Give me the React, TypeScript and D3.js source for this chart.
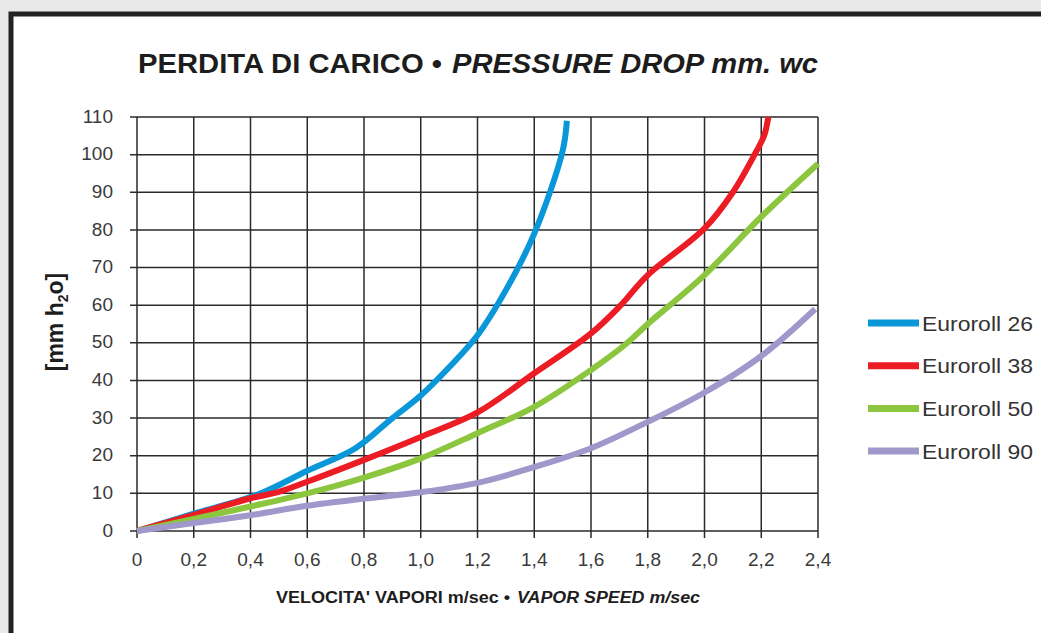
import React from "react";
import * as d3 from "d3";

// speeds (m/sec) and pressure drops (mm wc)
const speed26 = [0, 0.2, 0.43, 0.6, 0.77, 0.9, 1.0, 1.1, 1.2, 1.3, 1.4, 1.5, 1.515];
const drop26 = [0, 4.6, 9.8, 16, 22, 30, 36, 43.5, 52, 64, 79, 101, 109];

const speed38 = [0, 0.2, 0.4, 0.5, 0.6, 0.8, 1.0, 1.2, 1.4, 1.6, 1.7, 1.8, 2.0, 2.1, 2.18, 2.21, 2.225];
const drop38 = [0, 4.3, 8.7, 10.4, 13.1, 18.9, 25, 31.5, 41.9, 52.5, 59.6, 68, 80.4, 90, 100.5, 105, 110];

const speed50 = [0, 0.2, 0.4, 0.6, 0.8, 1.0, 1.2, 1.4, 1.6, 1.72, 1.8, 2.0, 2.2, 2.4];
const drop50 = [0, 3.2, 6.5, 10, 14.2, 19.3, 26, 33, 42.8, 49.5, 55, 68, 83.5, 97.6];

const speed90 = [0, 0.2, 0.4, 0.6, 0.8, 1.0, 1.2, 1.4, 1.6, 1.8, 2.0, 2.2, 2.39];
const drop90 = [0, 2.1, 4.2, 6.7, 8.6, 10.3, 12.8, 17, 22, 29, 36.8, 46.5, 59];

const seriesNames = ["Euroroll 26", "Euroroll 38", "Euroroll 50", "Euroroll 90"];
const seriesColors = ["#0a97d9", "#ec1c24", "#8cc63f", "#a097cb"];

const xTicks = [0, 0.2, 0.4, 0.6, 0.8, 1.0, 1.2, 1.4, 1.6, 1.8, 2.0, 2.2, 2.4];
const yTicks = [0, 10, 20, 30, 40, 50, 60, 70, 80, 90, 100, 110];

const W = 1041;
const H = 633;

export default function App() {
  const x = d3.scaleLinear().domain([0, 2.4]).range([137, 818]);
  const y = d3.scaleLinear().domain([0, 110]).range([531, 117]);

  const series = [
    { name: seriesNames[0], color: seriesColors[0], pts: speed26.map((v, i) => [v, drop26[i]]) },
    { name: seriesNames[1], color: seriesColors[1], pts: speed38.map((v, i) => [v, drop38[i]]) },
    { name: seriesNames[2], color: seriesColors[2], pts: speed50.map((v, i) => [v, drop50[i]]) },
    { name: seriesNames[3], color: seriesColors[3], pts: speed90.map((v, i) => [v, drop90[i]]) },
  ];

  const line = d3
    .line<number[]>()
    .x((d) => x(d[0]))
    .y((d) => y(d[1]))
    .curve(d3.curveCatmullRom.alpha(0.5));

  const fmt = (v: number) => (v === 0 ? "0" : v.toFixed(1).replace(".", ","));
  const grid = "#2a2a2a";
  const font = "'Liberation Sans', Arial, sans-serif";

  return (
    <svg
      width={W}
      height={H}
      style={{ position: "absolute", left: 0, top: 0, display: "block" }}
      fontFamily={font}
    >
      <rect x={0} y={0} width={W} height={H} fill="#e9e9e9" />
      <rect x={11} y={14} width={1100} height={700} fill="#fff" stroke="#222" strokeWidth={5} />

      {/* title */}
      <text x={138} y={73} fontSize={27} fontWeight="bold" fill="#1d1d1d" textLength={304} lengthAdjust="spacingAndGlyphs">
        PERDITA DI CARICO •
      </text>
      <text x={452} y={73} fontSize={27} fontWeight="bold" fontStyle="italic" fill="#1d1d1d" textLength={366} lengthAdjust="spacingAndGlyphs">
        PRESSURE DROP mm. wc
      </text>

      {/* grid */}
      {yTicks.map((t) => (
        <line key={"h" + t} x1={130} x2={x(2.4)} y1={y(t)} y2={y(t)} stroke={grid} strokeWidth={1.5} />
      ))}
      {xTicks.map((t) => (
        <line key={"v" + t} x1={x(t)} x2={x(t)} y1={y(110)} y2={538} stroke={grid} strokeWidth={1.5} />
      ))}

      {/* tick labels */}
      {yTicks.map((t) => (
        <text key={"yl" + t} x={113} y={y(t) - 1} dy="0.35em" textAnchor="end" fontSize={19} fill="#3a3a3a">
          {t}
        </text>
      ))}
      {xTicks.map((t) => (
        <text key={"xl" + t} x={x(t)} y={566} textAnchor="middle" fontSize={19} fill="#3a3a3a">
          {fmt(t)}
        </text>
      ))}

      {/* curves */}
      {series.map((s) => (
        <path
          key={s.name}
          d={line(s.pts) || ""}
          fill="none"
          stroke={s.color}
          strokeWidth={6}
          strokeLinejoin="round"
        />
      ))}

      {/* axis titles */}
      <text x={276} y={603} fontSize={16} fontWeight="bold" fill="#1d1d1d" textLength={234} lengthAdjust="spacingAndGlyphs">
        VELOCITA' VAPORI m/sec •
      </text>
      <text x={517} y={603} fontSize={16} fontWeight="bold" fontStyle="italic" fill="#1d1d1d" textLength={183} lengthAdjust="spacingAndGlyphs">
        VAPOR SPEED m/sec
      </text>
      <text transform="translate(63,322) rotate(-90)" textAnchor="middle" fontSize={23} fontWeight="bold" fill="#1d1d1d">
        [mm h<tspan fontSize={14} dy={5}>2</tspan>
        <tspan dy={-5}>o]</tspan>
      </text>

      {/* legend */}
      {series.map((s, i) => (
        <g key={"lg" + s.name} transform={`translate(868,${323 + i * 42.7})`}>
          <line x1={0} x2={51} y1={0} y2={0} stroke={s.color} strokeWidth={7} />
          <text x={54} y={0} dy="0.36em" fontSize={21} fill="#333" textLength={111} lengthAdjust="spacingAndGlyphs">
            {s.name}
          </text>
        </g>
      ))}
    </svg>
  );
}
